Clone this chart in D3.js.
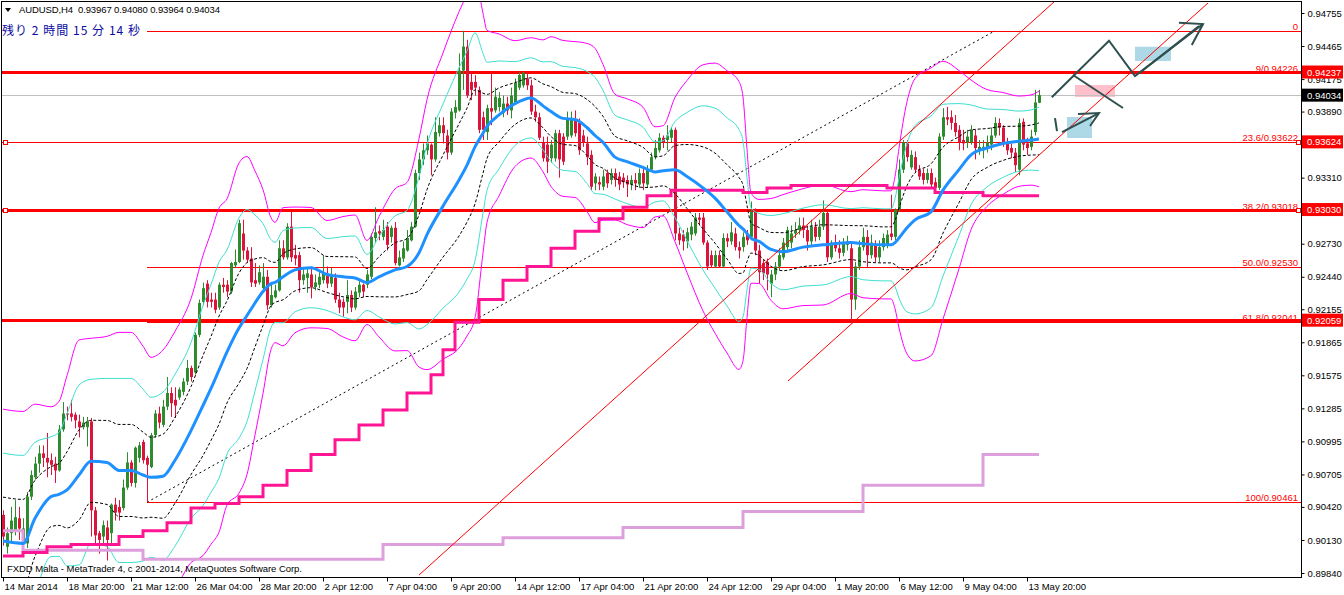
<!DOCTYPE html>
<html><head><meta charset="utf-8"><title>AUDUSD,H4</title>
<script src="https://cdn.jsdelivr.net/npm/d3@7/dist/d3.min.js"></script>
<style>html,body{margin:0;padding:0;background:#fff;overflow:hidden}svg{display:block}</style>
</head><body><svg id="chart" width="1344" height="595"></svg>
<script>
// ---------- DATA ----------
const symbolTitle = "AUDUSD,H4  0.93967 0.94080 0.93964 0.94034";
const timerText = "残り 2 時間 15 分 14 秒";
const footerText = "FXDD Malta - MetaTrader 4, c 2001-2014, MetaQuotes Software Corp.";

const timeTickBars = [0,16,32,48,64,80,96,112,128,144,160,176,192,208,224,240,256];
const timeLabels = ["14 Mar 2014","18 Mar 20:00","21 Mar 12:00","26 Mar 04:00","28 Mar 20:00","2 Apr 12:00","7 Apr 04:00","9 Apr 20:00","14 Apr 12:00","17 Apr 04:00","21 Apr 20:00","24 Apr 12:00","29 Apr 04:00","1 May 20:00","6 May 12:00","9 May 04:00","13 May 20:00"];
const priceTicks = [0.94755,0.94465,0.94175,0.93890,0.93600,0.93310,0.93020,0.92730,0.92440,0.92155,0.91865,0.91575,0.91285,0.90995,0.90705,0.90420,0.90130,0.89840];
const hiddenTickLabels = [0.93600,0.93020];

const open = [
0.9035,0.9007,0.9019,0.9022,0.9032,0.9013,0.9010,0.9051,0.9068,0.9080,
0.9089,0.9085,0.9083,0.9080,0.9074,0.9110,0.9124,0.9124,0.9123,0.9117,
0.9112,0.9112,0.9117,0.9039,0.9019,0.9016,0.9024,0.9019,0.9044,0.9042,
0.9041,0.9059,0.9081,0.9063,0.9085,0.9099,0.9085,0.9077,0.9105,0.9124,
0.9114,0.9130,0.9142,0.9136,0.9138,0.9143,0.9152,0.9164,0.9160,0.9193,
0.9222,0.9238,0.9224,0.9224,0.9217,0.9237,0.9237,0.9231,0.9254,0.9257,
0.9282,0.9267,0.9260,0.9241,0.9239,0.9234,0.9244,0.9219,0.9226,0.9232,
0.9269,0.9261,0.9288,0.9263,0.9263,0.9241,0.9243,0.9246,0.9235,0.9237,
0.9241,0.9246,0.9238,0.9243,0.9224,0.9222,0.9222,0.9228,0.9217,0.9230,
0.9237,0.9237,0.9244,0.9278,0.9284,0.9279,0.9288,0.9279,0.9287,0.9254,
0.9260,0.9267,0.9276,0.9288,0.9335,0.9347,0.9355,0.9360,0.9347,0.9370,
0.9377,0.9368,0.9353,0.9388,0.9390,0.9425,0.9446,0.9415,0.9415,0.9408,
0.9384,0.9371,0.9392,0.9390,0.9393,0.9388,0.9396,0.9390,0.9397,0.9410,
0.9412,0.9418,0.9412,0.9389,0.9384,0.9362,0.9360,0.9348,0.9348,0.9370,
0.9367,0.9367,0.9368,0.9382,0.9379,0.9368,0.9361,0.9351,0.9326,0.9327,
0.9323,0.9335,0.9329,0.9335,0.9332,0.9331,0.9329,0.9325,0.9329,0.9325,
0.9335,0.9325,0.9338,0.9349,0.9355,0.9366,0.9364,0.9366,0.9373,0.9282,
0.9281,0.9275,0.9281,0.9282,0.9296,0.9296,0.9274,0.9263,0.9253,0.9263,
0.9253,0.9278,0.9275,0.9282,0.9270,0.9270,0.9281,0.9279,0.9301,0.9267,
0.9256,0.9257,0.9238,0.9246,0.9253,0.9261,0.9270,0.9274,0.9282,0.9285,
0.9289,0.9285,0.9275,0.9288,0.9279,0.9288,0.9300,0.9261,0.9274,0.9269,
0.9265,0.9272,0.9269,0.9224,0.9253,0.9270,0.9279,0.9263,0.9272,0.9261,
0.9270,0.9272,0.9282,0.9279,0.9303,0.9338,0.9361,0.9340,0.9349,0.9338,
0.9335,0.9329,0.9335,0.9327,0.9322,0.9367,0.9384,0.9384,0.9379,0.9373,
0.9364,0.9362,0.9362,0.9368,0.9355,0.9355,0.9357,0.9360,0.9368,0.9379,
0.9375,0.9361,0.9357,0.9353,0.9338,0.9380,0.9361,0.9358,0.9371,0.93967];
const high = [
0.9039,0.9024,0.9042,0.9048,0.9042,0.9032,0.9055,0.9074,0.9086,0.9096,
0.9096,0.9107,0.9089,0.9086,0.9114,0.9134,0.9130,0.9136,0.9125,0.9123,
0.9121,0.9121,0.9120,0.9042,0.9021,0.9030,0.9030,0.9045,0.9050,0.9048,
0.9066,0.9090,0.9083,0.9095,0.9099,0.9101,0.9087,0.9107,0.9127,0.9130,
0.9136,0.9156,0.9147,0.9147,0.9147,0.9155,0.9171,0.9166,0.9195,0.9224,
0.9239,0.9241,0.9230,0.9230,0.9239,0.9243,0.9241,0.9257,0.9268,0.9294,
0.9294,0.9270,0.9270,0.9256,0.9254,0.9256,0.9250,0.9239,0.9237,0.9276,
0.9276,0.9291,0.9301,0.9272,0.9266,0.9252,0.9252,0.9253,0.9246,0.9248,
0.9263,0.9253,0.9252,0.9247,0.9230,0.9225,0.9241,0.9232,0.9235,0.9241,
0.9238,0.9250,0.9282,0.9305,0.9289,0.9294,0.9292,0.9289,0.9292,0.9267,
0.9275,0.9285,0.9292,0.9338,0.9353,0.9361,0.9368,0.9361,0.9384,0.9384,
0.9384,0.9373,0.9392,0.9399,0.9440,0.94599,0.9452,0.9424,0.9421,0.9411,
0.9389,0.9395,0.9424,0.9410,0.9406,0.9403,0.9402,0.9410,0.9418,0.9424,
0.9424,0.9424,0.9417,0.9395,0.9388,0.9367,0.9367,0.9364,0.9373,0.9373,
0.9370,0.9389,0.9389,0.9390,0.9383,0.9373,0.9367,0.9355,0.9335,0.9332,
0.9338,0.9338,0.9339,0.9339,0.9336,0.9335,0.9333,0.9333,0.9335,0.9339,
0.9339,0.9342,0.9353,0.9364,0.9370,0.9368,0.9377,0.9375,0.9375,0.9287,
0.9285,0.9287,0.9292,0.9300,0.9300,0.9300,0.9276,0.9267,0.9267,0.9267,
0.9282,0.9282,0.9292,0.9287,0.9275,0.9283,0.9285,0.9310,0.9304,0.9272,
0.9259,0.9260,0.9250,0.9257,0.9269,0.9278,0.9288,0.9289,0.9292,0.9296,
0.9296,0.9289,0.9294,0.9292,0.9294,0.9311,0.9303,0.9276,0.9281,0.9276,
0.9278,0.9280,0.9274,0.9257,0.9276,0.9287,0.9285,0.9281,0.9276,0.9276,
0.9282,0.9285,0.9316,0.9304,0.9347,0.9364,0.9364,0.9355,0.9354,0.9342,
0.9339,0.9339,0.9339,0.9331,0.9370,0.9392,0.9393,0.9390,0.9386,0.9377,
0.9373,0.9373,0.9377,0.9373,0.9364,0.9364,0.9368,0.9375,0.9384,0.9383,
0.9377,0.9366,0.9361,0.9357,0.9383,0.9383,0.9366,0.9373,0.9408,0.94080];
const low = [
0.9008,0.9001,0.9010,0.9017,0.9013,0.8998,0.9006,0.9048,0.9066,0.9072,
0.9077,0.9068,0.9070,0.9063,0.9073,0.9108,0.9118,0.9117,0.9111,0.9103,
0.9110,0.9095,0.9016,0.9010,0.9001,0.9010,0.8995,0.9008,0.9030,0.9030,
0.9039,0.9057,0.9060,0.9059,0.9081,0.9080,0.90461,0.9076,0.9103,0.9111,
0.9112,0.9127,0.9121,0.9120,0.9136,0.9140,0.9149,0.9152,0.9158,0.9191,
0.9219,0.9217,0.9217,0.9212,0.9215,0.9230,0.9226,0.9229,0.9252,0.9256,
0.9259,0.9256,0.9235,0.9235,0.9237,0.9232,0.9215,0.9217,0.9225,0.9231,
0.9259,0.9259,0.9257,0.9254,0.9230,0.9237,0.9230,0.9225,0.9232,0.9234,
0.9238,0.9234,0.9235,0.9221,0.9212,0.9209,0.9212,0.9213,0.9215,0.9226,
0.9226,0.9234,0.9242,0.9274,0.9276,0.9276,0.9267,0.9274,0.9254,0.9253,
0.9257,0.9266,0.9275,0.9287,0.9329,0.9342,0.9351,0.9333,0.9345,0.9367,
0.9361,0.9347,0.9351,0.9383,0.9389,0.9408,0.9401,0.9399,0.9403,0.9370,
0.9364,0.9364,0.9377,0.9388,0.9389,0.9384,0.9386,0.9383,0.9395,0.9408,
0.9410,0.9408,0.9386,0.9380,0.9364,0.9345,0.9335,0.9344,0.9345,0.9331,
0.9342,0.9364,0.9366,0.9367,0.9351,0.9358,0.9342,0.9320,0.9320,0.9320,
0.9320,0.9322,0.9325,0.9323,0.9320,0.9322,0.9314,0.9320,0.9320,0.9322,
0.9320,0.9322,0.9336,0.9347,0.9353,0.9357,0.9355,0.9362,0.9276,0.9272,
0.9267,0.9269,0.9276,0.9280,0.9289,0.9272,0.9250,0.9252,0.9252,0.9252,
0.9252,0.9270,0.9272,0.9267,0.9260,0.9266,0.9272,0.9276,0.9263,0.9238,
0.9241,0.9232,0.9226,0.9241,0.9250,0.9259,0.9267,0.9269,0.9278,0.9281,
0.9278,0.9267,0.9272,0.9275,0.9276,0.9285,0.9257,0.9259,0.9266,0.9260,
0.9262,0.9267,0.9203,0.9215,0.9250,0.9267,0.9252,0.9260,0.9257,0.9257,
0.9267,0.9269,0.9276,0.9276,0.9301,0.9335,0.9345,0.9338,0.9335,0.9329,
0.9325,0.9326,0.9322,0.9320,0.9320,0.9364,0.9377,0.9373,0.9367,0.9355,
0.9355,0.9357,0.9360,0.9347,0.9351,0.9348,0.9353,0.9355,0.9366,0.9368,
0.9358,0.9351,0.9348,0.9336,0.9333,0.9355,0.9351,0.9355,0.9368,0.93964];
const close = [
0.9016,0.9019,0.9030,0.9033,0.9023,0.9023,0.9051,0.9070,0.9080,0.9089,
0.9085,0.9081,0.9079,0.9074,0.9110,0.9124,0.9123,0.9121,0.9118,0.9112,
0.9116,0.9117,0.9039,0.9017,0.9013,0.9026,0.9013,0.9044,0.9037,0.9037,
0.9059,0.9081,0.9063,0.9094,0.9096,0.9083,0.9079,0.9105,0.9124,0.9116,
0.9130,0.9142,0.9133,0.9131,0.9145,0.9152,0.9164,0.9156,0.9193,0.9221,
0.9234,0.9222,0.9222,0.9215,0.9237,0.9235,0.9231,0.9256,0.9257,0.9291,
0.9267,0.9259,0.9239,0.9238,0.9248,0.9244,0.9219,0.9228,0.9232,0.9269,
0.9261,0.9288,0.9261,0.9260,0.9241,0.9246,0.9247,0.9235,0.9239,0.9244,
0.9247,0.9238,0.9246,0.9224,0.9217,0.9217,0.9228,0.9217,0.9231,0.9237,
0.9231,0.9246,0.9279,0.9283,0.9282,0.9285,0.9272,0.9287,0.9256,0.9261,
0.9269,0.9278,0.9288,0.9335,0.9347,0.9355,0.9361,0.9347,0.9371,0.9377,
0.9370,0.9353,0.9389,0.9393,0.9425,0.9446,0.9403,0.9408,0.9410,0.9373,
0.9373,0.9392,0.9389,0.9402,0.9401,0.9396,0.9390,0.9403,0.9414,0.9421,
0.9423,0.9412,0.9389,0.9384,0.9366,0.9348,0.9345,0.9360,0.9370,0.9347,
0.9345,0.9382,0.9382,0.9370,0.9355,0.9362,0.9349,0.9323,0.9332,0.9325,
0.9332,0.9326,0.9335,0.9329,0.9325,0.9327,0.9325,0.9329,0.9326,0.9335,
0.9326,0.9338,0.9349,0.9357,0.9366,0.9362,0.9368,0.9373,0.9282,0.9276,
0.9275,0.9283,0.9288,0.9296,0.9294,0.9274,0.9253,0.9254,0.9263,0.9253,
0.9278,0.9275,0.9283,0.9270,0.9267,0.9279,0.9276,0.9301,0.9267,0.9248,
0.9247,0.9246,0.9246,0.9253,0.9263,0.9274,0.9285,0.9282,0.9285,0.9289,
0.9285,0.9275,0.9288,0.9279,0.9288,0.9300,0.9261,0.9274,0.9269,0.9265,
0.9274,0.9275,0.9224,0.9253,0.9270,0.9279,0.9263,0.9274,0.9261,0.9270,
0.9278,0.9281,0.9279,0.9303,0.9338,0.9362,0.9349,0.9351,0.9338,0.9332,
0.9329,0.9335,0.9325,0.9322,0.9367,0.9384,0.9382,0.9379,0.9371,0.9362,
0.9361,0.9367,0.9373,0.9357,0.9358,0.9358,0.9362,0.9368,0.9379,0.9375,
0.9361,0.9355,0.9353,0.9342,0.9379,0.9360,0.9357,0.9367,0.9397,0.94034];

// Bollinger-band readings (bar index, middle line, one deviation)
const bbIdx = [0,5,8,12,14,16,19,22,26,29,32,35,37,40,43,47,50,52,54,56,59,61,63,65,67,68,70,73,77,81,85,88,91,94,98,101,104,106,110,114,116,118,120,121,124,128,132,135,137,140,143,146,148,150,153,156,160,163,165,168,171,175,178,181,184,185,186,187,189,192,195,200,205,212,215,220,222,223,224,226,228,232,235,239,242,246,250,254,257,259];
const bbMid = [0.9012,0.9010,0.9032,0.9051,0.9053,0.9057,0.9070,0.9082,0.9081,0.9074,0.9074,0.9070,0.9068,0.9069,0.9083,0.9109,0.9131,0.9146,0.9162,0.9178,0.9199,0.9210,0.9221,0.9231,0.9238,0.9239,0.9244,0.9250,0.9252,0.9246,0.9244,0.9243,0.9239,0.9244,0.9250,0.9253,0.9265,0.9281,0.9306,0.9329,0.9342,0.9358,0.9370,0.9376,0.9386,0.9396,0.9401,0.9394,0.9389,0.9383,0.9382,0.9375,0.9368,0.9362,0.9349,0.9345,0.9340,0.9336,0.9337,0.9338,0.9332,0.9322,0.9313,0.9301,0.9289,0.9286,0.9282,0.9278,0.9275,0.9268,0.9266,0.9270,0.9272,0.9274,0.9273,0.9272,0.9272,0.9274,0.9278,0.9287,0.9294,0.9301,0.9320,0.9338,0.9351,0.9357,0.9361,0.9363,0.9364,0.9365];
const bbDev = [0.00386,0.00386,0.00334,0.00263,0.00272,0.00334,0.00395,0.00360,0.00369,0.00404,0.00404,0.00377,0.00351,0.00369,0.00377,0.00386,0.00439,0.00456,0.00474,0.00448,0.00483,0.00465,0.00386,0.00298,0.00193,0.00176,0.00202,0.00184,0.00176,0.00158,0.00176,0.00184,0.00123,0.00176,0.00237,0.00246,0.00334,0.00395,0.00448,0.00492,0.00500,0.00500,0.00351,0.00281,0.00237,0.00184,0.00176,0.00193,0.00219,0.00228,0.00228,0.00246,0.00255,0.00228,0.00184,0.00184,0.00176,0.00132,0.00132,0.00211,0.00281,0.00360,0.00395,0.00413,0.00421,0.00386,0.00246,0.00132,0.00123,0.00149,0.00167,0.00171,0.00176,0.00149,0.00158,0.00158,0.00158,0.00193,0.00263,0.00369,0.00413,0.00421,0.00377,0.00290,0.00219,0.00171,0.00149,0.00132,0.00132,0.00140];

// Daily step line (deep pink) and weekly step line (plum)
const pinkIdx = [0,5,11,17,29,35,41,47,53,59,65,71,77,83,89,95,101,107,110,113,119,125,131,137,143,149,155,161,167,185,191,197,221,233,245];
const pinkVal = [0.8999,0.9002,0.9007,0.9009,0.9016,0.9021,0.9028,0.9041,0.9045,0.9051,0.9061,0.9074,0.9088,0.9101,0.9114,0.9127,0.9142,0.9158,0.9180,0.9204,0.9224,0.9241,0.9253,0.9269,0.9284,0.9295,0.9305,0.9315,0.9320,0.9318,0.9322,0.9324,0.9322,0.9318,0.9315];
const plumIdx = [0,5,35,95,125,155,185,215,245];
const plumVal = [0.9021,0.9004,0.8996,0.9009,0.9015,0.9024,0.9038,0.9061,0.9088];

// Fibonacci retracement
const fibAnchorBars = [36, 248];
const fibLevels = ["0","9","23.6","38.2","50.0","61.8","100"];
const fibPrices = [0.94599,0.94226,0.93622,0.93018,0.92530,0.92041,0.90461];

// Horizontal lines
const hlinePrices = [0.94237,0.93624,0.93030,0.92059];
const hlineWidths = [3,1,3,3];
const bidPrice = 0.94034;

// Trend lines [bar, price] -> [bar, price]
const trendLines = [[[104,0.89822],[263,0.94860]],[[196.25,0.91525],[301.25,0.94843]]];

// Hand drawn objects
const rectBars = [[283,292],[268,278],[266,272.25]];
const rectPrices = [[0.94459,0.94334],[0.94123,0.94018],[0.93842,0.93658]];
const rectColors = ["#ADD8E6","#FFC0CB","#ADD8E6"];
const drawnPaths = [
  [[262.2,0.94015],[276.5,0.94512],[283,0.94202],[300,0.94658]],
  [[284,0.94226],[299,0.94640]],
  [[294,0.94669],[300,0.94658],[297.2,0.94474]],
  [[267.5,0.94211],[280,0.93921]],
  [[263,0.93833],[263.5,0.93719]],
  [[264.75,0.93710],[274,0.93877]],
  [[268.75,0.93868],[274,0.93877],[271.75,0.93763]]
];

// ---------- DRAWING ----------
const svg = d3.select("#chart");
const FONT = "'Liberation Sans', Arial, sans-serif";
const x = d3.scaleLinear().domain([0, 259]).range([3, 1039]);
const y = d3.scaleLinear().domain([0.89840, 0.94755]).range([573, 13]);
const PL = 2, PT = 2, PR = 1301, PB = 577;

svg.append("rect").attr("width",1344).attr("height",595).attr("fill","#fff");
svg.append("defs").append("clipPath").attr("id","clip")
  .append("rect").attr("x",PL).attr("y",PT).attr("width",PR-PL).attr("height",PB-PT);
const g = svg.append("g").attr("clip-path","url(#clip)");

// rectangles
rectBars.forEach((b,k)=>{
  g.append("rect").attr("x",x(b[0])).attr("width",x(b[1])-x(b[0]))
    .attr("y",y(rectPrices[k][0])).attr("height",y(rectPrices[k][1])-y(rectPrices[k][0]))
    .attr("fill",rectColors[k]);
});

// bid line
g.append("line").attr("x1",PL).attr("x2",PR).attr("y1",Math.round(y(bidPrice))+0.5).attr("y2",Math.round(y(bidPrice))+0.5)
  .attr("stroke","#C0C0C0").attr("stroke-width",1);

// fibo levels
const fx0 = x(fibAnchorBars[0]);
fibPrices.forEach((p,k)=>{
  const yy = Math.round(y(p))+0.5;
  g.append("line").attr("x1",fx0).attr("x2",PR).attr("y1",yy).attr("y2",yy).attr("stroke","#FF0000").attr("stroke-width",1);
  const lbl = fibLevels[k]==="0" ? "0" : fibLevels[k]+"/"+p.toFixed(5);
  g.append("text").attr("x",1298).attr("y",yy-2).attr("text-anchor","end")
    .attr("font-family",FONT).attr("font-size",9.5).attr("fill","#FF0000").text(lbl);
});
g.append("line").attr("x1",x(fibAnchorBars[0])).attr("y1",y(fibPrices[6]))
  .attr("x2",x(fibAnchorBars[1])).attr("y2",y(fibPrices[0]))
  .attr("stroke","#000").attr("stroke-width",1).attr("stroke-dasharray","2,3");

// horizontal lines
hlinePrices.forEach((p,k)=>{
  const yy = Math.round(y(p)) + (hlineWidths[k]%2 ? 0.5 : 0);
  g.append("line").attr("x1",PL).attr("x2",PR).attr("y1",yy).attr("y2",yy)
    .attr("stroke","#FF0000").attr("stroke-width",hlineWidths[k]);
});
[hlinePrices[1],hlinePrices[2]].forEach(p=>{
  [3,1296].forEach(xx=>{
    svg.append("rect").attr("x",xx+0.5).attr("y",Math.round(y(p))-1.5).attr("width",4).attr("height",4)
      .attr("fill","#fff").attr("stroke","#FF0000").attr("stroke-width",1);
  });
});

// candles
const bars = d3.range(close.length).map(i=>({i,o:open[i],h:high[i],l:low[i],c:close[i]}));
const bull = "#2E8B2E", bear = "#DC143C";
const cg = g.append("g");
cg.selectAll("line").data(bars).join("line")
  .attr("x1",d=>x(d.i)+0.5).attr("x2",d=>x(d.i)+0.5)
  .attr("y1",d=>y(d.h)).attr("y2",d=>y(d.l))
  .attr("stroke",d=>d.c>=d.o?bull:bear).attr("stroke-width",1);
cg.selectAll("rect").data(bars).join("rect")
  .attr("x",d=>x(d.i)-1).attr("width",3)
  .attr("y",d=>y(Math.max(d.o,d.c)))
  .attr("height",d=>Math.max(1,Math.abs(y(d.o)-y(d.c))))
  .attr("fill",d=>d.c>=d.o?bull:bear);

// bands
const bandDefs = [
  {k:3,c:"#FF00FF",w:1},{k:-3,c:"#FF00FF",w:1},
  {k:2,c:"#40E0D0",w:1},{k:-2,c:"#40E0D0",w:1},
  {k:1,c:"#000000",w:1,dash:"3,2"},{k:-1,c:"#000000",w:1,dash:"3,2"}
];
bandDefs.forEach(b=>{
  const ln = d3.line().x((d,j)=>x(bbIdx[j])).y((d,j)=>y(bbMid[j]+b.k*bbDev[j])).curve(d3.curveMonotoneX);
  g.append("path").datum(bbMid).attr("d",ln).attr("fill","none").attr("stroke",b.c)
    .attr("stroke-width",b.w).attr("stroke-dasharray",b.dash||null);
});

// step lines
const stepLine = d3.line().x(d=>x(d[0])).y(d=>y(d[1])).curve(d3.curveStepAfter);
const pinkPts = pinkIdx.map((b,k)=>[b,pinkVal[k]]); pinkPts.push([259,pinkVal[pinkVal.length-1]]);
const plumPts = plumIdx.map((b,k)=>[b,plumVal[k]]); plumPts.push([259,plumVal[plumVal.length-1]]);
g.append("path").datum(plumPts).attr("d",stepLine).attr("fill","none").attr("stroke","#DDA0DD").attr("stroke-width",3);
g.append("path").datum(pinkPts).attr("d",stepLine).attr("fill","none").attr("stroke","#FF1493").attr("stroke-width",3);

// middle line (blue)
const midLine = d3.line().x((d,j)=>x(bbIdx[j])).y(d=>y(d)).curve(d3.curveMonotoneX);
g.append("path").datum(bbMid).attr("d",midLine).attr("fill","none").attr("stroke","#1E90FF").attr("stroke-width",3);

// trend lines
trendLines.forEach(t=>{
  g.append("line").attr("x1",x(t[0][0])).attr("y1",y(t[0][1])).attr("x2",x(t[1][0])).attr("y2",y(t[1][1]))
    .attr("stroke","#FF0000").attr("stroke-width",1);
});

// hand drawn lines
const pl = d3.line().x(d=>x(d[0])).y(d=>y(d[1]));
drawnPaths.forEach(p=>{
  g.append("path").datum(p).attr("d",pl).attr("fill","none").attr("stroke","#2F4F4F")
    .attr("stroke-width",2).attr("stroke-linejoin","miter");
});

// frame
svg.append("rect").attr("x",1.5).attr("y",1.5).attr("width",PR-1).attr("height",PB-1)
  .attr("fill","none").attr("stroke","#000").attr("stroke-width",1);

// right axis
const ax = svg.append("g").attr("transform",`translate(${PR+0.5},0)`)
  .call(d3.axisRight(y).tickValues(priceTicks)
    .tickFormat(d=>hiddenTickLabels.includes(d) ? "" : d.toFixed(5)).tickSize(3).tickPadding(3));
ax.select(".domain").remove();
ax.selectAll("line").attr("stroke","#000");
ax.selectAll("text").attr("font-family",FONT).attr("font-size",9.5).attr("fill","#000");

// bottom axis
const bx = svg.append("g").attr("transform",`translate(0,${PB+0.5})`)
  .call(d3.axisBottom(x).tickValues(timeTickBars).tickFormat((d,k)=>timeLabels[k]).tickSize(4).tickPadding(2));
bx.select(".domain").remove();
bx.selectAll("line").attr("stroke","#000");
bx.selectAll("text").attr("font-family",FONT).attr("font-size",9.5).attr("fill","#000")
  .attr("text-anchor","start").attr("dx",1);

// price boxes
const boxes = [[hlinePrices[0],"#FF0000"],[bidPrice,"#000000"],[hlinePrices[1],"#FF0000"],[hlinePrices[2],"#FF0000"],[hlinePrices[3],"#FF0000"]];
boxes.forEach(b=>{
  const yy = y(b[0]);
  svg.append("rect").attr("x",PR+1).attr("y",yy-6.5).attr("width",1344-PR-2).attr("height",13).attr("fill",b[1]);
  svg.append("text").attr("x",PR+6).attr("y",yy+3.5).attr("font-family",FONT).attr("font-size",9.5)
    .attr("fill","#fff").text(b[0].toFixed(5));
});

// header texts
svg.append("path").attr("d","M5,8 L11,8 L8,12 Z").attr("fill","#000");
svg.append("text").attr("x",19).attr("y",13).attr("font-family",FONT).attr("font-size",9.5)
  .attr("fill","#000").attr("textLength",201).attr("xml:space","preserve").text(symbolTitle);
svg.append("text").attr("x",2).attr("y",35).attr("font-family","'Noto Sans CJK JP', sans-serif").attr("font-size",12)
  .attr("fill","#0A0AA0").attr("textLength",138).attr("xml:space","preserve").text(timerText);
svg.append("text").attr("x",7).attr("y",572).attr("font-family",FONT).attr("font-size",9.5)
  .attr("fill","#000").attr("textLength",295).text(footerText);
</script></body></html>
